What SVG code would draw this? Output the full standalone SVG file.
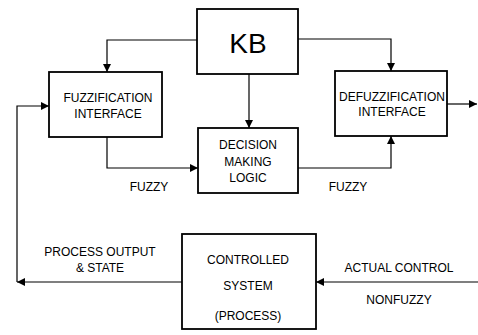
<svg xmlns="http://www.w3.org/2000/svg" width="478" height="335" viewBox="0 0 478 335">
<style>
.box{fill:#fff;stroke:#000;stroke-width:1.8}
.ln{fill:none;stroke:#000;stroke-width:1.2}
text{font-family:"Liberation Sans",Arial,sans-serif;font-size:12px;fill:#000;text-anchor:middle}
.big{font-size:28px}
</style>
<defs>
<marker id="ah" viewBox="0 0 10 10" refX="10" refY="5" markerWidth="8" markerHeight="8" markerUnits="userSpaceOnUse" orient="auto">
<path d="M0,0 L10,5 L0,10 z" fill="#000"/>
</marker>
</defs>
<rect width="478" height="335" fill="#fff"/>
<g id="connectors">
<path class="ln" d="M197,40 H107 V72" marker-end="url(#ah)"/>
<path class="ln" d="M249,74 V128" marker-end="url(#ah)"/>
<path class="ln" d="M298,39 H391 V71" marker-end="url(#ah)"/>
<path class="ln" d="M107,137 V168 H198" marker-end="url(#ah)"/>
<path class="ln" d="M298,168 H391 V136" marker-end="url(#ah)"/>
<path class="ln" d="M447,104 H477" marker-end="url(#ah)"/>
<path class="ln" d="M478,282 H316" marker-end="url(#ah)"/>
<path class="ln" d="M182,282 H17" marker-end="url(#ah)"/>
<path class="ln" d="M17,282 V106 H49" marker-end="url(#ah)"/>
</g>
<g id="kb">
<rect class="box" x="197" y="9" width="101" height="65"/>
<text class="big" x="248" y="53">KB</text>
</g>
<g id="fuzzification">
<rect class="box" x="49" y="72" width="113" height="65"/>
<text x="108" y="102">FUZZIFICATION</text>
<text x="108" y="118">INTERFACE</text>
</g>
<g id="decision">
<rect class="box" x="198" y="128" width="100" height="65"/>
<text x="248" y="149">DECISION</text>
<text x="248" y="166">MAKING</text>
<text x="248" y="182">LOGIC</text>
</g>
<g id="defuzzification">
<rect class="box" x="335" y="71" width="112" height="65"/>
<text x="392" y="101">DEFUZZIFICATION</text>
<text x="392" y="116">INTERFACE</text>
</g>
<g id="controlled">
<rect class="box" x="182" y="234" width="134" height="95"/>
<text x="248" y="264">CONTROLLED</text>
<text x="248" y="290">SYSTEM</text>
<text x="248" y="320">(PROCESS)</text>
</g>
<g id="labels">
<text x="149" y="191">FUZZY</text>
<text x="348" y="191">FUZZY</text>
<text x="100" y="256">PROCESS OUTPUT</text>
<text x="100" y="272">&amp; STATE</text>
<text x="399" y="272">ACTUAL CONTROL</text>
<text x="399" y="304">NONFUZZY</text>
</g>
</svg>
